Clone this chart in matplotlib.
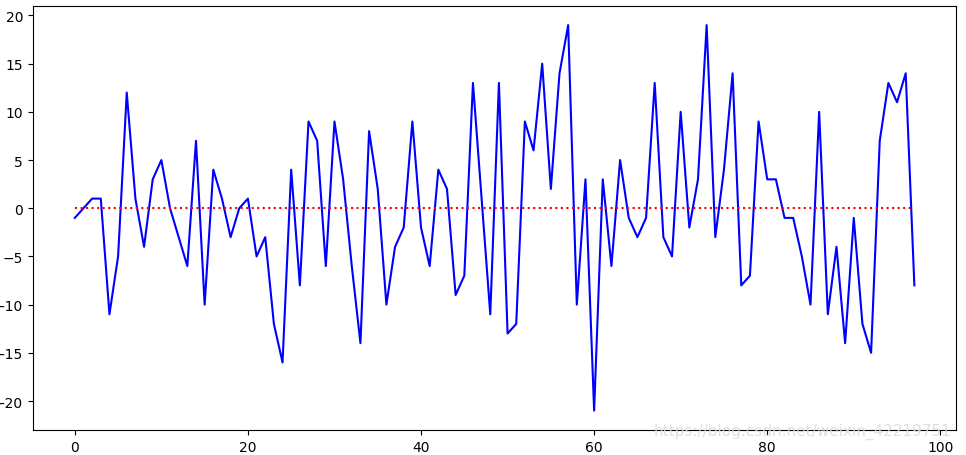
import matplotlib
matplotlib.use("Agg")
import matplotlib.pyplot as plt
import numpy as np

values = [-1, 0, 1, 1, -11, -5, 12, 1, -4, 3,
          5, 0, -3, -6, 7, -10, 4, 1, -3, 0,
          1, -5, -3, -12, -16, 4, -8, 9, 7, -6,
          9, 3, -6, -14, 8, 2, -10, -4, -2, 9,
          -2, -6, 4, 2, -9, -7, 13, 1, -11, 13,
          -13, -12, 9, 6, 15, 2, 14, 19, -10, 3,
          -21, 3, -6, 5, -1, -3, -1, 13, -3, -5,
          10, -2, 3, 19, -3, 4, 14, -8, -7, 9,
          3, 3, -1, -1, -5, -10, 10, -11, -4, -14,
          -1, -12, -15, 7, 13, 11, 14, -8]
x = np.arange(len(values))
baseline = [0] * len(values)

fig = plt.figure(figsize=(9.66, 4.56), dpi=100)
ax = fig.add_axes([0.034, 0.055, 0.956, 0.93])
ax.plot(x, values, color='b')
ax.plot(x, baseline, 'r:')
fig.text(0.985, 0.035, "https://blog.csdn.net/weixin_42219751", ha='right', va='bottom',
         color='#dddddd', fontsize=11, alpha=0.9)
fig.savefig("out.png", dpi=100)
